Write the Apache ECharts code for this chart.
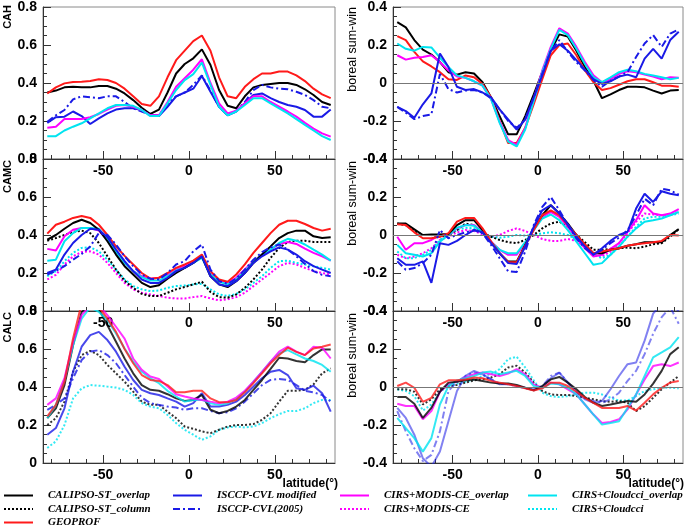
<!DOCTYPE html>
<html>
<head>
    <meta charset="utf-8">
    <title>Cloud amount by latitude</title>
    <script src="https://cdn.jsdelivr.net/npm/echarts@6/dist/echarts.min.js"></script>
    <style>
        body { margin: 0; background: #fff; }
        #main { width: 685px; height: 529px; }
    </style>
</head>
<body>
<div id="main"></div>
<script type="text/javascript">
// latitude centres (deg)
var lat = [-82.5,-77.5,-72.5,-67.5,-62.5,-57.5,-52.5,-47.5,-42.5,-37.5,-32.5,-27.5,-22.5,-17.5,-12.5,-7.5,-2.5,
           2.5,7.5,12.5,17.5,22.5,27.5,32.5,37.5,42.5,47.5,52.5,57.5,62.5,67.5,72.5,77.5,82.5];

// CAH (annual)
var cahCalipso  = [0.35,0.36,0.377,0.38,0.377,0.377,0.384,0.384,0.37,0.345,0.31,0.27,0.237,0.26,0.35,0.45,0.50,0.53,0.577,0.495,0.363,0.28,0.267,0.33,0.377,0.39,0.395,0.40,0.40,0.39,0.367,0.337,0.30,0.284];
var cahGeoprof  = [0.345,0.377,0.398,0.405,0.407,0.41,0.42,0.416,0.40,0.37,0.33,0.29,0.28,0.33,0.43,0.52,0.57,0.62,0.65,0.57,0.43,0.33,0.32,0.38,0.42,0.45,0.45,0.46,0.46,0.44,0.41,0.37,0.34,0.32];
var cahIsccpMod = [0.19,0.22,0.223,0.25,0.226,0.184,0.214,0.24,0.26,0.267,0.267,0.258,0.23,0.226,0.275,0.33,0.35,0.37,0.437,0.354,0.275,0.23,0.25,0.293,0.337,0.345,0.32,0.30,0.284,0.275,0.258,0.223,0.223,0.26];
var cahIsccp05  = [0.196,0.23,0.258,0.314,0.33,0.325,0.32,0.33,0.33,0.30,0.267,0.25,0.23,0.23,0.29,0.33,0.35,0.39,0.44,0.36,0.275,0.23,0.254,0.30,0.363,0.39,0.377,0.37,0.367,0.354,0.337,0.31,0.275,0.267];
var cahModis    = [0.165,0.17,0.21,0.21,0.21,0.22,0.237,0.26,0.28,0.284,0.275,0.258,0.23,0.23,0.30,0.38,0.425,0.47,0.525,0.40,0.293,0.24,0.254,0.293,0.33,0.33,0.30,0.275,0.25,0.223,0.19,0.16,0.135,0.118];
var cahCloudcci = [0.12,0.12,0.15,0.17,0.188,0.214,0.24,0.267,0.284,0.284,0.28,0.258,0.226,0.226,0.293,0.363,0.415,0.447,0.507,0.39,0.275,0.23,0.25,0.284,0.32,0.32,0.293,0.267,0.24,0.21,0.18,0.15,0.12,0.10];

// CAH boreal summer - winter
var cahSwCalipso  = [0.32,0.293,0.226,0.176,0.15,0.11,0.057,0.044,0.057,0.05,0.004,-0.076,-0.174,-0.27,-0.27,-0.174,-0.06,0.057,0.17,0.256,0.244,0.17,0.084,0.012,-0.08,-0.06,-0.037,-0.02,-0.02,-0.023,-0.04,-0.055,-0.04,-0.037];
var cahSwGeoprof  = [0.247,0.226,0.164,0.114,0.087,0.057,0.02,0.016,0.04,0.03,-0.005,-0.076,-0.2,-0.316,-0.316,-0.236,-0.112,0.02,0.146,0.2,0.208,0.146,0.066,0.004,-0.037,-0.027,-0.009,0.009,0.02,0.02,0.004,-0.014,-0.014,-0.02];
var cahSwIsccpMod = [-0.126,-0.148,-0.183,-0.112,-0.055,0.155,0.084,-0.02,-0.037,-0.032,-0.05,-0.076,-0.139,-0.192,-0.245,-0.192,-0.076,0.04,0.17,0.204,0.17,0.12,0.07,0.02,-0.005,0.009,0.034,0.044,0.03,0.128,0.18,0.128,0.226,0.27];
var cahSwIsccp05  = [-0.126,-0.156,-0.19,-0.174,-0.165,0.048,-0.032,-0.05,-0.04,-0.037,-0.05,-0.08,-0.139,-0.20,-0.236,-0.192,-0.076,0.048,0.17,0.226,0.164,0.11,0.066,0.016,-0.02,0.012,0.034,0.057,0.137,0.208,0.252,0.19,0.26,0.283];
var cahSwModis    = [0.146,0.123,0.133,0.137,0.146,0.11,0.066,0.034,0.027,0.009,-0.014,-0.085,-0.204,-0.30,-0.325,-0.236,-0.085,0.066,0.19,0.288,0.26,0.19,0.11,0.04,0.004,0.02,0.048,0.062,0.057,0.044,0.034,0.02,0.03,0.027];
var cahSwCloudcci = [0.208,0.18,0.17,0.19,0.187,0.133,0.084,0.04,0.027,0.009,-0.014,-0.085,-0.21,-0.308,-0.334,-0.245,-0.094,0.057,0.18,0.28,0.252,0.18,0.10,0.03,0.004,0.03,0.057,0.07,0.062,0.048,0.04,0.03,0.02,0.027];

// CAMC (annual)
var camcCalipso    = [0.375,0.40,0.433,0.463,0.48,0.463,0.428,0.367,0.297,0.236,0.192,0.148,0.126,0.136,0.17,0.20,0.227,0.253,0.288,0.183,0.14,0.126,0.157,0.20,0.253,0.297,0.34,0.384,0.41,0.423,0.423,0.393,0.384,0.388];
var camcCalipsoCol = [0.37,0.384,0.40,0.416,0.423,0.41,0.358,0.288,0.218,0.16,0.122,0.09,0.079,0.079,0.096,0.114,0.126,0.14,0.154,0.10,0.073,0.07,0.087,0.122,0.166,0.218,0.28,0.332,0.363,0.37,0.37,0.363,0.363,0.363];
var camcGeoprof    = [0.407,0.454,0.47,0.49,0.50,0.49,0.454,0.40,0.34,0.29,0.245,0.20,0.17,0.175,0.20,0.227,0.245,0.265,0.297,0.21,0.166,0.154,0.192,0.245,0.306,0.358,0.41,0.454,0.475,0.475,0.458,0.437,0.423,0.433];
var camcIsccpMod   = [0.20,0.218,0.297,0.358,0.40,0.433,0.428,0.388,0.323,0.262,0.21,0.166,0.148,0.148,0.175,0.21,0.227,0.253,0.288,0.183,0.14,0.131,0.157,0.20,0.253,0.288,0.314,0.335,0.323,0.297,0.262,0.236,0.218,0.20];
var camcIsccp05    = [0.192,0.21,0.236,0.27,0.30,0.34,0.41,0.40,0.35,0.288,0.236,0.192,0.17,0.166,0.20,0.245,0.262,0.314,0.35,0.218,0.157,0.143,0.17,0.218,0.27,0.31,0.335,0.35,0.323,0.288,0.248,0.21,0.19,0.183];
var camcModis      = [0.327,0.318,0.393,0.428,0.437,0.437,0.423,0.375,0.314,0.253,0.21,0.183,0.17,0.175,0.192,0.218,0.236,0.262,0.288,0.20,0.16,0.148,0.175,0.218,0.262,0.297,0.323,0.353,0.363,0.353,0.328,0.306,0.288,0.265];
var camcModisCol   = [0.166,0.19,0.245,0.288,0.31,0.314,0.297,0.253,0.20,0.148,0.114,0.096,0.087,0.079,0.07,0.066,0.066,0.073,0.079,0.066,0.056,0.061,0.073,0.096,0.131,0.166,0.20,0.236,0.253,0.245,0.227,0.21,0.20,0.192];
var camcCloudcci   = [0.265,0.27,0.367,0.41,0.437,0.437,0.433,0.375,0.31,0.253,0.21,0.178,0.16,0.16,0.183,0.213,0.227,0.253,0.28,0.192,0.154,0.14,0.166,0.21,0.258,0.297,0.323,0.358,0.38,0.37,0.35,0.323,0.297,0.265];
var camcCloudcciCol= [0.183,0.21,0.262,0.306,0.332,0.335,0.314,0.27,0.218,0.166,0.131,0.114,0.105,0.108,0.122,0.131,0.134,0.14,0.143,0.114,0.087,0.079,0.09,0.114,0.148,0.183,0.227,0.262,0.265,0.253,0.245,0.236,0.227,0.218];

// CAMC boreal summer - winter
var camcSwCalipso    = [0.06,0.06,0.03,0,0.003,0.003,0.005,0.052,0.078,0.078,0.026,-0.038,-0.096,-0.14,-0.14,-0.052,0.035,0.104,0.157,0.113,0.06,0,-0.052,-0.096,-0.096,-0.078,-0.07,-0.056,-0.049,-0.038,-0.038,-0.038,0,0.031];
var camcSwCalipsoCol = [0.06,0.052,0.021,0,0,-0.009,0,0.026,0.06,0.052,0.009,-0.009,-0.026,-0.038,-0.043,-0.026,0,0.035,0.061,0.07,0.043,0,-0.038,-0.078,-0.078,-0.073,-0.07,-0.066,-0.07,-0.061,-0.049,-0.043,-0.009,0.031];
var camcSwGeoprof    = [0.056,0.052,0.014,-0.017,-0.017,-0.009,0.009,0.07,0.09,0.09,0.035,-0.035,-0.096,-0.143,-0.143,-0.056,0.026,0.104,0.13,0.104,0.052,0,-0.049,-0.096,-0.087,-0.078,-0.07,-0.056,-0.049,-0.043,-0.038,-0.031,0,-0.003];
var camcSwIsccpMod   = [-0.122,-0.157,-0.157,-0.139,-0.252,-0.043,-0.052,-0.031,0,0.026,0.014,-0.043,-0.096,-0.148,-0.153,-0.061,0.043,0.13,0.157,0.113,0.056,-0.009,-0.061,-0.104,-0.07,-0.031,0,0.017,0.139,0.217,0.174,0.23,0.217,0.209];
var camcSwIsccp05    = [-0.139,-0.183,-0.174,-0.148,-0.104,0.026,-0.017,0,0.014,0.026,0.009,-0.052,-0.122,-0.191,-0.195,-0.087,0.052,0.148,0.20,0.13,0.052,-0.017,-0.07,-0.104,-0.078,-0.043,-0.014,0.026,0.104,0.191,0.157,0.243,0.235,0.212];
var camcSwModis      = [-0.009,-0.078,-0.043,-0.043,-0.026,0,0,0.035,0.052,0.052,0.017,-0.035,-0.078,-0.104,-0.104,-0.043,0.026,0.096,0.122,0.096,0.043,-0.017,-0.07,-0.113,-0.104,-0.073,-0.043,0.017,0.078,0.157,0.113,0.104,0.113,0.136];
var camcSwModisCol   = [-0.104,-0.122,-0.113,-0.096,-0.07,-0.026,-0.009,0.014,0.026,0.021,0.003,-0.009,0,0.021,0.035,0.021,0,-0.021,-0.031,-0.031,-0.021,-0.031,-0.061,-0.104,-0.113,-0.087,-0.043,0.009,0.07,0.113,0.108,0.104,0.104,0.122];
var camcSwCloudcci   = [-0.052,-0.096,-0.104,-0.113,-0.096,-0.035,0,0.038,0.052,0.049,0.014,-0.038,-0.078,-0.096,-0.096,-0.038,0.026,0.087,0.108,0.078,0.026,-0.035,-0.096,-0.157,-0.148,-0.104,-0.061,-0.009,0.035,0.07,0.078,0.087,0.104,0.122];
var camcSwCloudcciCol= [-0.087,-0.122,-0.122,-0.104,-0.078,-0.026,0,0.026,0.038,0.035,0.009,-0.009,-0.014,-0.009,0,-0.003,0,0.009,0.014,0.009,0,-0.021,-0.061,-0.104,-0.122,-0.104,-0.061,-0.009,0.043,0.087,0.096,0.096,0.104,0.113];

// CALC (annual)
var calcCalipso    = [0.236,0.288,0.41,0.62,0.795,0.83,0.81,0.725,0.638,0.55,0.472,0.41,0.385,0.38,0.362,0.34,0.327,0.332,0.358,0.28,0.262,0.274,0.297,0.332,0.385,0.437,0.495,0.554,0.55,0.537,0.53,0.568,0.598,0.598];
var calcCalipsoCol = [0.20,0.236,0.323,0.48,0.568,0.59,0.568,0.516,0.472,0.428,0.376,0.323,0.306,0.306,0.27,0.236,0.192,0.18,0.166,0.157,0.175,0.192,0.20,0.20,0.205,0.227,0.262,0.323,0.38,0.38,0.385,0.414,0.472,0.498];
var calcGeoprof    = [0.245,0.306,0.428,0.655,0.84,0.86,0.82,0.76,0.69,0.60,0.525,0.463,0.437,0.432,0.41,0.372,0.372,0.38,0.38,0.34,0.32,0.32,0.332,0.372,0.42,0.472,0.525,0.568,0.607,0.585,0.568,0.603,0.612,0.624];
var calcIsccpMod   = [0.149,0.184,0.288,0.48,0.612,0.673,0.69,0.647,0.586,0.507,0.437,0.385,0.367,0.358,0.34,0.323,0.297,0.315,0.367,0.297,0.297,0.306,0.323,0.358,0.402,0.446,0.48,0.49,0.463,0.393,0.385,0.407,0.367,0.27];
var calcIsccp05    = [0.28,0.306,0.34,0.446,0.542,0.586,0.594,0.568,0.525,0.463,0.402,0.344,0.315,0.306,0.297,0.292,0.28,0.288,0.288,0.274,0.262,0.267,0.288,0.323,0.367,0.41,0.437,0.442,0.437,0.41,0.38,0.372,0.358,0.323];
var calcModis      = [0.306,0.34,0.446,0.638,0.778,0.83,0.83,0.778,0.717,0.655,0.55,0.49,0.455,0.442,0.402,0.362,0.35,0.34,0.332,0.323,0.315,0.323,0.344,0.38,0.428,0.48,0.533,0.586,0.612,0.586,0.568,0.612,0.607,0.55];
var calcCloudcci   = [0.236,0.306,0.437,0.62,0.76,0.82,0.795,0.752,0.682,0.603,0.533,0.48,0.446,0.42,0.38,0.35,0.323,0.332,0.332,0.315,0.306,0.315,0.336,0.376,0.428,0.48,0.533,0.577,0.594,0.572,0.55,0.537,0.516,0.48];
var calcCloudcciCol= [0.079,0.114,0.20,0.34,0.393,0.41,0.407,0.402,0.397,0.385,0.358,0.315,0.297,0.288,0.253,0.21,0.175,0.149,0.122,0.14,0.175,0.187,0.192,0.187,0.192,0.21,0.236,0.257,0.274,0.274,0.288,0.315,0.332,0.332];

// CALC boreal summer - winter
var calcSwCalipso    = [-0.053,-0.053,-0.088,-0.163,-0.11,-0.025,0.023,0.028,0.035,0.04,0.032,0.023,0.018,0.018,0.011,-0.004,-0.018,0.005,0.04,0.053,0.023,-0.012,-0.053,-0.083,-0.10,-0.092,-0.083,-0.074,-0.078,-0.039,0.018,0.085,0.173,0.209];
var calcSwCalipsoCol = [-0.012,-0.012,-0.025,-0.092,-0.065,-0.012,0.005,0.011,0.023,0.035,0.04,0.05,0.067,0.103,0.112,0.076,0.023,-0.021,-0.039,-0.042,-0.042,-0.048,-0.057,-0.065,-0.074,-0.078,-0.074,-0.083,-0.127,-0.10,-0.057,-0.012,0.023,0.058];
var calcSwGeoprof    = [0.005,0.023,-0.004,-0.078,-0.057,0.014,0.035,0.035,0.04,0.05,0.046,0.032,0.023,0.014,0.005,-0.007,-0.018,-0.007,0.023,0.023,0.005,-0.025,-0.057,-0.083,-0.11,-0.11,-0.11,-0.10,-0.124,-0.083,-0.039,-0.004,0.023,0.032];
var calcSwIsccpMod   = [-0.11,-0.163,-0.251,-0.375,-0.42,-0.34,-0.18,-0.021,0.058,0.085,0.067,0.04,0.014,0.014,0.005,-0.004,-0.018,0,0.046,0.076,0.023,-0.025,-0.065,-0.083,-0.074,-0.012,0.058,0.12,0.129,0.244,0.386,0.44,0.44,0.40];
var calcSwIsccp05    = [-0.127,-0.234,-0.322,-0.39,-0.357,-0.234,-0.021,0.028,0.058,0.076,0.067,0.04,0.018,0.014,0.005,-0.007,-0.012,0.005,0.058,0.076,0.023,-0.025,-0.06,-0.074,-0.083,-0.065,-0.03,0.032,0.085,0.173,0.28,0.368,0.42,0.333];
var calcSwModis      = [-0.088,-0.10,-0.10,-0.17,-0.127,-0.025,0.014,0.028,0.05,0.067,0.076,0.067,0.058,0.071,0.094,0.067,0.014,-0.004,0.023,0.014,-0.012,-0.039,-0.092,-0.145,-0.189,-0.184,-0.17,-0.118,-0.039,0.04,0.11,0.12,0.11,0.129];
var calcSwCloudcci   = [-0.163,-0.216,-0.269,-0.34,-0.269,-0.092,0.005,0.035,0.046,0.058,0.076,0.081,0.067,0.076,0.085,0.058,0.005,-0.004,0.018,0.014,-0.004,-0.039,-0.092,-0.145,-0.198,-0.189,-0.18,-0.11,-0.039,0.058,0.156,0.182,0.209,0.262];
var calcSwCloudcciCol= [-0.012,-0.021,-0.048,-0.124,-0.092,-0.025,0.005,0.018,0.028,0.04,0.058,0.067,0.094,0.147,0.159,0.103,0.035,-0.03,-0.048,-0.053,-0.048,-0.039,-0.03,-0.03,-0.039,-0.057,-0.071,-0.071,-0.048,-0.021,-0.012,-0.004,-0.004,-0.007];

var xLabels = [-50, 0, 50];
var xMinorTicks = [-80,-70,-60,-50,-40,-30,-20,-10,0,10,20,30,40,50,60,70,80];

var DOT = [2, 2];
var DASHDOT = [7, 3, 2, 3];
var sty = {
    'CALIPSO-ST_overlap':    {color: '#000000', type: 'solid'},
    'CALIPSO-ST_column':     {color: '#000000', type: DOT},
    'GEOPROF':               {color: '#ff1a1a', type: 'solid'},
    'ISCCP-CVL modified':    {color: '#1a1ae6', type: 'solid'},
    'ISCCP-CVL(2005)':       {color: '#1a1ae6', type: DASHDOT},
    'CIRS+MODIS-CE_overlap': {color: '#ff00ff', type: 'solid'},
    'CIRS+MODIS-CE':         {color: '#ff00ff', type: DOT},
    'CIRS+Cloudcci_overlap': {color: '#00e4f0', type: 'solid'},
    'CIRS+Cloudcci':         {color: '#00e4f0', type: DOT}
};

// grid order: 0 left-top, 1 right-top, 2 left-mid, 3 right-mid, 4 left-bottom, 5 right-bottom
var panels = [
    [['CALIPSO-ST_overlap', cahCalipso], ['ISCCP-CVL modified', cahIsccpMod], ['ISCCP-CVL(2005)', cahIsccp05],
     ['CIRS+MODIS-CE_overlap', cahModis], ['CIRS+Cloudcci_overlap', cahCloudcci], ['GEOPROF', cahGeoprof]],
    [['CALIPSO-ST_overlap', cahSwCalipso], ['GEOPROF', cahSwGeoprof], ['CIRS+MODIS-CE_overlap', cahSwModis],
     ['CIRS+Cloudcci_overlap', cahSwCloudcci], ['ISCCP-CVL(2005)', cahSwIsccp05], ['ISCCP-CVL modified', cahSwIsccpMod]],
    [['CIRS+MODIS-CE', camcModisCol], ['CIRS+Cloudcci', camcCloudcciCol], ['CALIPSO-ST_column', camcCalipsoCol],
     ['CIRS+MODIS-CE_overlap', camcModis], ['CIRS+Cloudcci_overlap', camcCloudcci], ['CALIPSO-ST_overlap', camcCalipso],
     ['GEOPROF', camcGeoprof], ['ISCCP-CVL(2005)', camcIsccp05], ['ISCCP-CVL modified', camcIsccpMod]],
    [['CIRS+MODIS-CE', camcSwModisCol], ['CIRS+Cloudcci', camcSwCloudcciCol], ['CALIPSO-ST_column', camcSwCalipsoCol],
     ['CIRS+MODIS-CE_overlap', camcSwModis], ['CIRS+Cloudcci_overlap', camcSwCloudcci], ['CALIPSO-ST_overlap', camcSwCalipso],
     ['GEOPROF', camcSwGeoprof], ['ISCCP-CVL(2005)', camcSwIsccp05], ['ISCCP-CVL modified', camcSwIsccpMod]],
    [['CIRS+Cloudcci', calcCloudcciCol], ['CALIPSO-ST_column', calcCalipsoCol], ['ISCCP-CVL(2005)', calcIsccp05],
     ['ISCCP-CVL modified', calcIsccpMod], ['CALIPSO-ST_overlap', calcCalipso], ['CIRS+Cloudcci_overlap', calcCloudcci],
     ['CIRS+MODIS-CE_overlap', calcModis], ['GEOPROF', calcGeoprof]],
    [['CIRS+Cloudcci', calcSwCloudcciCol], ['CALIPSO-ST_column', calcSwCalipsoCol], ['ISCCP-CVL(2005)', calcSwIsccp05],
     ['ISCCP-CVL modified', calcSwIsccpMod], ['CIRS+MODIS-CE_overlap', calcSwModis], ['CIRS+Cloudcci_overlap', calcSwCloudcci],
     ['CALIPSO-ST_overlap', calcSwCalipso], ['GEOPROF', calcSwGeoprof]]
];

var tickFont = {fontFamily: 'Liberation Sans, Arial', fontWeight: 'bold', fontSize: 14, color: '#000'};
var axisCol = '#333';

var grids = [], xAxes = [], yAxes = [], series = [];
for (var g = 0; g < 6; g++) {
    var isRight = g % 2 === 1;
    var row = Math.floor(g / 2);
    grids.push({
        left: isRight ? 393 : 43, width: isRight ? 290 : 292,
        top: 7 + row * 152, height: 152,
        show: true, borderColor: '#8a8a8a', borderWidth: 1
    });
    xAxes.push({
        type: 'value', gridIndex: g, min: -85, max: 85, position: 'bottom',
        axisLine: {onZero: false, lineStyle: {color: axisCol}},
        axisTick: {inside: true, length: 4, customValues: xMinorTicks, lineStyle: {color: axisCol}},
        axisLabel: Object.assign({customValues: xLabels, margin: 5}, tickFont),
        splitLine: {show: false}
    });
    xAxes.push({
        type: 'value', gridIndex: g, min: -85, max: 85, position: 'bottom',
        axisLine: {show: false, onZero: false},
        axisTick: {inside: true, length: 8, customValues: xLabels, lineStyle: {color: axisCol}},
        axisLabel: {show: false},
        splitLine: {show: false}
    });
    yAxes.push({
        type: 'value', gridIndex: g,
        min: isRight ? -0.4 : 0, max: isRight ? 0.4 : 0.8, interval: 0.2,
        axisLine: {show: true, onZero: false, lineStyle: {color: axisCol}},
        axisTick: {inside: true, length: 8, lineStyle: {color: axisCol}},
        minorTick: {show: true, splitNumber: 4, length: 4, lineStyle: {color: axisCol}},
        axisLabel: Object.assign({margin: 6, formatter: function (v) { return v === 0 ? '0' : String(Math.round(v * 10) / 10); }}, tickFont),
        splitLine: {show: false}
    });

    panels[g].forEach(function (p, k) {
        var s = sty[p[0]];
        var op = 1;
        if (row === 2) {
            op = 0.8;
            if (isRight && p[0].indexOf('ISCCP') === 0) op = 0.55;
        }
        var ser = {
            type: 'line', name: p[0], xAxisIndex: 2 * g, yAxisIndex: g,
            data: lat.map(function (x, i) { return [x, p[1][i]]; }),
            symbol: 'none', showSymbol: false, silent: true, animation: false, clip: true,
            lineStyle: {color: s.color, width: 2, type: s.type, opacity: op},
            itemStyle: {color: s.color}
        };
        if (isRight && k === 0) {
            ser.markLine = {
                silent: true, symbol: 'none', animation: false,
                label: {show: false},
                lineStyle: {color: '#777', width: 1, type: 'solid'},
                data: [{yAxis: 0}]
            };
        }
        series.push(ser);
    });
}

var legendText = {fontFamily: 'Liberation Serif, Times New Roman, serif', fontStyle: 'italic', fontWeight: 'bold',
                  fontSize: 11, color: '#000', padding: [0, 0, 0, 10]};
function legendCol(left, names) {
    return {
        orient: 'vertical', left: left, top: 490, height: 40, padding: 0, itemWidth: 29, itemHeight: 10, itemGap: 2.5,
        selectedMode: false, textStyle: legendText, data: names,
        itemStyle: {opacity: 0, borderWidth: 0}
    };
}

function vText(x, y, txt, font) {
    return {type: 'text', x: x, y: y, rotation: Math.PI / 2,
            style: {text: txt, font: font, fill: '#000', align: 'right', verticalAlign: 'middle'}};
}
var nameFont = 'bold 11px "Liberation Sans", Arial';
var swFont = '12.5px "Liberation Sans", Arial';

var myChart = echarts.init(document.getElementById('main'));
var option = {
    backgroundColor: '#fff',
    animation: false,
    grid: grids,
    xAxis: xAxes,
    yAxis: yAxes,
    legend: [
        legendCol(3, ['CALIPSO-ST_overlap', 'CALIPSO-ST_column', 'GEOPROF']),
        legendCol(172, ['ISCCP-CVL modified', 'ISCCP-CVL(2005)']),
        legendCol(339, ['CIRS+MODIS-CE_overlap', 'CIRS+MODIS-CE']),
        legendCol(527, ['CIRS+Cloudcci_overlap', 'CIRS+Cloudcci'])
    ],
    graphic: [
        vText(8, 5, 'CAH', nameFont),
        vText(8, 160, 'CAMC', nameFont),
        vText(8, 312, 'CALC', nameFont),
        vText(353, 7, 'boreal sum-win', swFont),
        vText(353, 161, 'boreal sum-win', swFont),
        vText(353, 313, 'boreal sum-win', swFont),
        {type: 'text', x: 338, y: 484, style: {text: 'latitude(°)', font: 'bold 12px "Liberation Sans", Arial', fill: '#000', align: 'right', verticalAlign: 'middle'}},
        {type: 'text', x: 684, y: 484, style: {text: 'latitude(°)', font: 'bold 12px "Liberation Sans", Arial', fill: '#000', align: 'right', verticalAlign: 'middle'}}
    ],
    series: series
};
myChart.setOption(option);
</script>
</body>
</html>
